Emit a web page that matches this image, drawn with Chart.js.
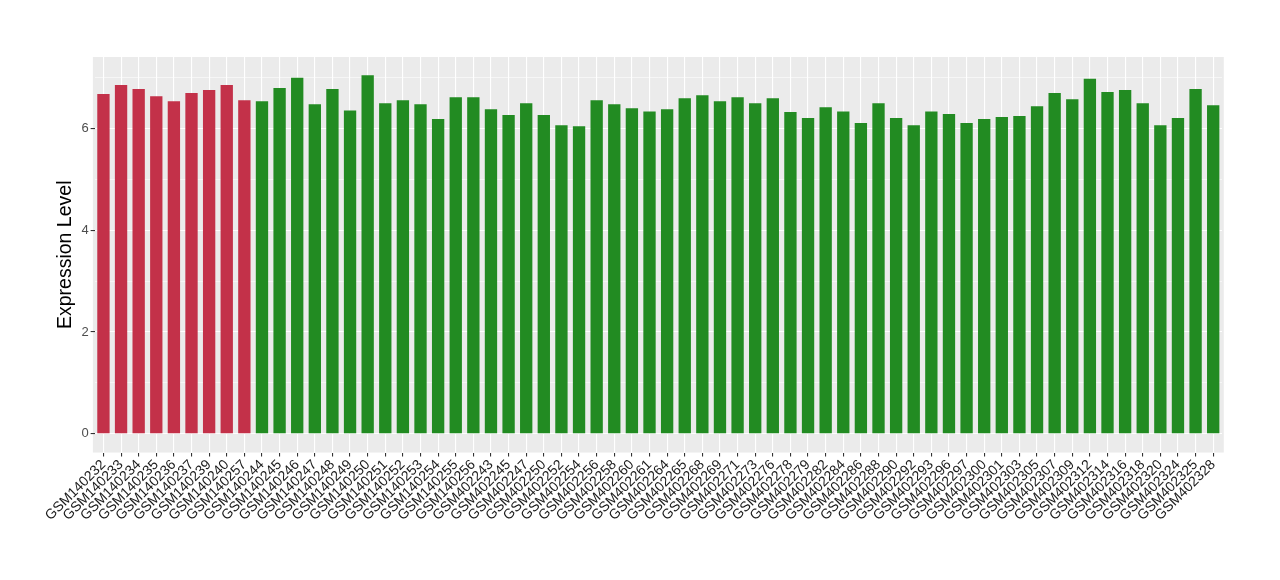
<!DOCTYPE html>
<html>
<head>
<meta charset="utf-8">
<script src="https://cdn.jsdelivr.net/npm/chart.js@4/dist/chart.umd.min.js"></script>
<style>
  body { margin: 0; background: #fff; }
  #wrap { width: 1280px; height: 580px; }
</style>
</head>
<body>
<div id="wrap"><canvas id="exprChart"></canvas></div>
<script>
// Samples, in plot order
const samples = [
  'GSM140232', 'GSM140233', 'GSM140234', 'GSM140235', 'GSM140236', 'GSM140237', 'GSM140239', 'GSM140240', 'GSM140257',
  'GSM140244', 'GSM140245', 'GSM140246', 'GSM140247', 'GSM140248', 'GSM140249', 'GSM140250', 'GSM140251', 'GSM140252',
  'GSM140253', 'GSM140254', 'GSM140255', 'GSM140256', 'GSM402243', 'GSM402245', 'GSM402247', 'GSM402250', 'GSM402252',
  'GSM402254', 'GSM402256', 'GSM402258', 'GSM402260', 'GSM402261', 'GSM402264', 'GSM402265', 'GSM402268', 'GSM402269',
  'GSM402271', 'GSM402273', 'GSM402276', 'GSM402278', 'GSM402279', 'GSM402282', 'GSM402284', 'GSM402286', 'GSM402288',
  'GSM402290', 'GSM402292', 'GSM402293', 'GSM402296', 'GSM402297', 'GSM402300', 'GSM402301', 'GSM402303', 'GSM402305',
  'GSM402307', 'GSM402309', 'GSM402312', 'GSM402314', 'GSM402316', 'GSM402318', 'GSM402320', 'GSM402324', 'GSM402325',
  'GSM402328'
];

// Expression values
const expression = [
  6.68, 6.86, 6.78, 6.64, 6.54, 6.70, 6.76, 6.86, 6.56,
  6.54, 6.80, 7.00, 6.48, 6.78, 6.36, 7.05, 6.50, 6.56,
  6.48, 6.19, 6.62, 6.62, 6.38, 6.27, 6.50, 6.27, 6.07,
  6.05, 6.56, 6.48, 6.40, 6.34, 6.38, 6.60, 6.66, 6.54,
  6.62, 6.50, 6.60, 6.33, 6.21, 6.42, 6.34, 6.11, 6.50,
  6.21, 6.07, 6.34, 6.29, 6.11, 6.19, 6.23, 6.25, 6.44,
  6.70, 6.58, 6.98, 6.72, 6.76, 6.50, 6.07, 6.21, 6.78,
  6.46
];

// first group of samples (drawn red), the rest green
const firstGroup = samples.slice(0, 9);

const yTicks = [0, 1, 2, 3, 4, 5, 6, 7];

const RED = '#C33149';
const GREEN = '#228B22';

// grey panel behind the bars, a bit wider than the category range like ggplot
const panelBg = {
    id: 'panelBg',
    beforeDraw(chart) {
        const { ctx, chartArea: a } = chart;
        const unit = (a.right - a.left) / samples.length;
        ctx.save();
        ctx.fillStyle = '#EBEBEB';
        ctx.fillRect(a.left - 0.1 * unit, a.top, (a.right - a.left) + 0.2 * unit, a.bottom - a.top);
        ctx.restore();
    }
};

const exprChart = new Chart(document.getElementById('exprChart'), {
    type: 'bar',
    data: {
        labels: samples,
        datasets: [{
            data: expression,
            backgroundColor: samples.map(s => firstGroup.includes(s) ? RED : GREEN),
            barPercentage: 0.7,
            categoryPercentage: 1.0,
        }],
    },
    options: {
        responsive: true,
        maintainAspectRatio: false,
        animation: false,
        layout: {
            padding: { top: 57, right: 58, bottom: 56, left: 54 },
        },
        plugins: {
            legend: { display: false },
            tooltip: { enabled: false },
        },
        scales: {
            x: {
                border: { display: false },
                grid: {
                    offset: false,
                    color: '#FFFFFF',
                    lineWidth: 1.1,
                    tickColor: '#333333',
                    tickLength: 4,
                },
                ticks: {
                    autoSkip: false,
                    minRotation: 45,
                    maxRotation: 45,
                    padding: 0,
                    color: '#1A1A1A',
                    font: { family: 'Liberation Sans', size: 14 },
                },
            },
            y: {
                min: -0.37,
                max: 7.41,
                afterBuildTicks: scale => {
                    scale.ticks = yTicks.map(v => ({ value: v }));
                },
                border: { display: false },
                grid: {
                    color: '#FFFFFF',
                    lineWidth: c => (c.tick && c.tick.value % 2 === 0) ? 1.1 : 0.55,
                    tickColor: c => (c.tick && c.tick.value % 2 === 0) ? '#333333' : 'rgba(0,0,0,0)',
                    tickLength: 4,
                },
                ticks: {
                    padding: 2,
                    color: '#4D4D4D',
                    font: { family: 'Liberation Sans', size: 13 },
                    callback: v => (v % 2 === 0 ? v : ''),
                },
                title: {
                    display: true,
                    text: 'Expression Level',
                    color: '#000000',
                    font: { family: 'Liberation Sans', size: 19.5 },
                    padding: { top: 0, bottom: 2 },
                },
            },
        },
    },
    plugins: [panelBg],
});
</script>
</body>
</html>
